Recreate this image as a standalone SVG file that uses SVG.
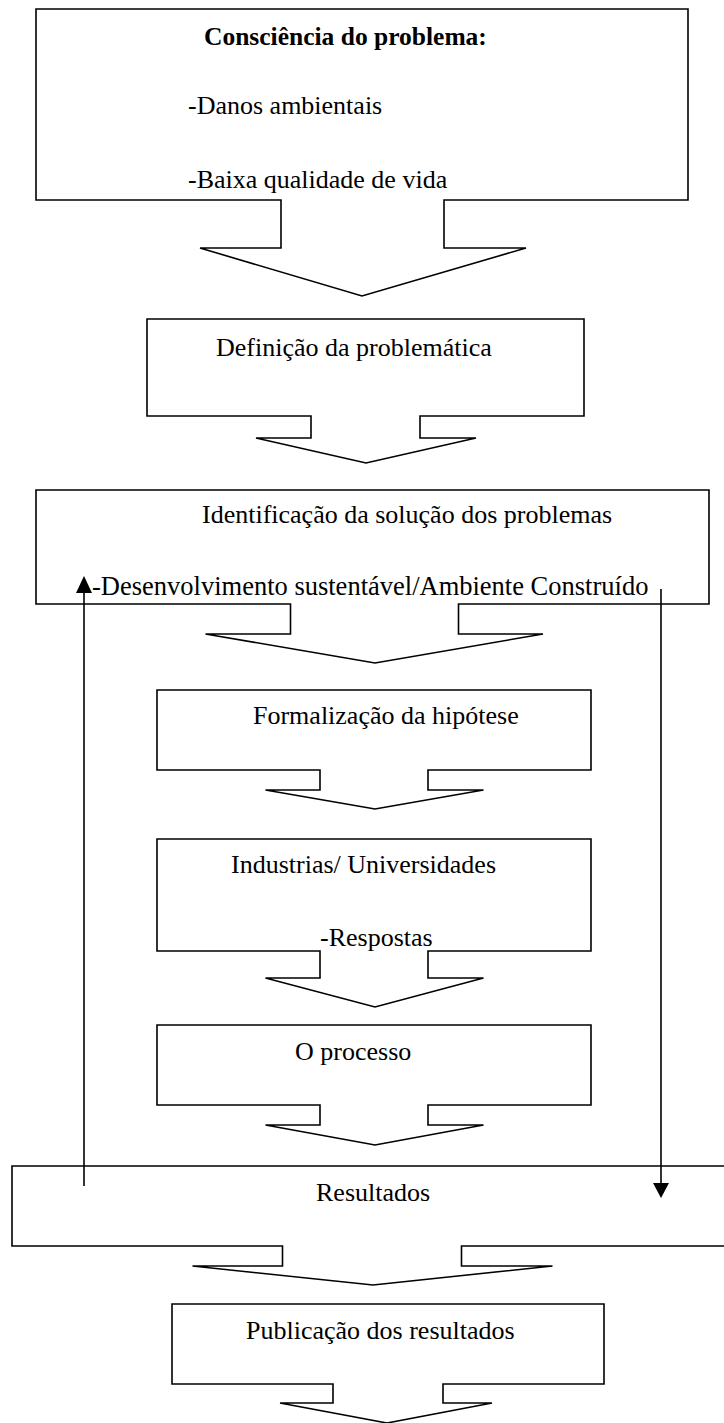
<svg xmlns="http://www.w3.org/2000/svg" width="724" height="1423" viewBox="0 0 724 1423">
  <style>
    .shape { fill: #ffffff; stroke: #000000; stroke-width: 1.6; stroke-linejoin: miter; }
    .lbl { font-family: "Liberation Serif", "Times New Roman", serif; font-size: 26px; fill: #000000; }
    .bold { font-weight: bold; font-size: 25.5px; }
    .wide { font-size: 26.5px; }
    .link { stroke: #000000; stroke-width: 1.6; fill: none; }
    .head { fill: #000000; stroke: none; }
  </style>
  <rect width="724" height="1423" fill="#ffffff"/>

  <!-- each step: box outline merged with its block arrow pointing down -->
  <g id="node-consciencia">
    <path class="shape" d="M281,200 H36 V9 H688 V200 H444 V248 H526 L362,296 L200,248 H281 Z"/>
    <text class="lbl bold" x="204" y="45">Consciência do problema:</text>
    <text class="lbl" x="188" y="114">-Danos ambientais</text>
    <text class="lbl" x="188" y="188">-Baixa qualidade de vida</text>
  </g>

  <g id="node-definicao">
    <path class="shape" d="M311,416 H147 V319 H584 V416 H420 V438 H476 L366,463 L256,438 H311 Z"/>
    <text class="lbl" x="216" y="356">Definição da problemática</text>
  </g>

  <g id="node-identificacao">
    <path class="shape" d="M290.5,604 H36 V490 H709 V604 H458.5 V634 H543 L375,663 L205.5,634 H290.5 Z"/>
    <text class="lbl" x="202" y="523">Identificação da solução dos problemas</text>
    <text class="lbl wide" x="92" y="595">-Desenvolvimento sustentável/Ambiente Construído</text>
  </g>

  <g id="node-formalizacao">
    <path class="shape" d="M320,770 H157 V690 H591 V770 H428 V790 H483.5 L375,809 L265.5,790 H320 Z"/>
    <text class="lbl" x="253" y="724">Formalização da hipótese</text>
  </g>

  <g id="node-industrias">
    <path class="shape" d="M320,951 H157 V839 H591 V951 H428 V978 H483.5 L375,1007 L265.5,978 H320 Z"/>
    <text class="lbl" x="231" y="873">Industrias/ Universidades</text>
    <text class="lbl" x="320" y="946">-Respostas</text>
  </g>

  <g id="node-processo">
    <path class="shape" d="M320,1105 H157 V1025 H591 V1105 H428 V1125 H483.5 L375,1145 L265.5,1125 H320 Z"/>
    <text class="lbl" x="295" y="1060">O processo</text>
  </g>

  <g id="node-resultados">
    <path class="shape" d="M282.5,1246 H12 V1166 H727 V1246 H461.5 V1266 H552.5 L373,1285 L192.5,1266 H282.5 Z"/>
    <text class="lbl" x="316" y="1201">Resultados</text>
  </g>

  <g id="node-publicacao">
    <path class="shape" d="M333,1384 H172 V1304 H604 V1384 H443 V1403 H492 L387,1423 L280,1403 H333 Z"/>
    <text class="lbl" x="246" y="1339">Publicação dos resultados</text>
  </g>

  <!-- feedback connectors between the solution step and the results -->
  <g id="connectors">
    <line class="link" x1="84" y1="1186" x2="84" y2="590"/>
    <polygon class="head" points="76,593 92,593 84,576"/>
    <line class="link" x1="661" y1="589" x2="661" y2="1186"/>
    <polygon class="head" points="653,1183 669,1183 661,1198"/>
  </g>
</svg>
